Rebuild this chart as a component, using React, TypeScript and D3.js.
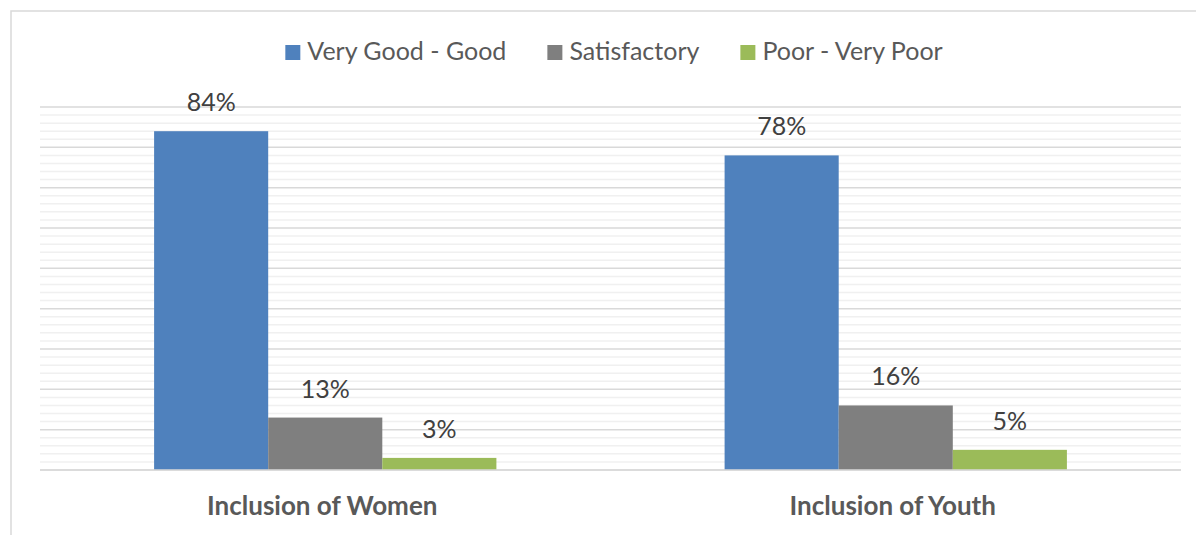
import React, { useEffect, useRef } from "react";
import * as d3 from "d3";

const categories = ["Inclusion of Women", "Inclusion of Youth"];
const seriesNames = ["Very Good - Good", "Satisfactory", "Poor - Very Poor"];
const seriesColors = ["#4f81bd", "#7f7f7f", "#9bbb59"];
const veryGoodGood = [0.84, 0.78];
const satisfactory = [0.13, 0.16];
const poorVeryPoor = [0.03, 0.05];
const yMax = 0.9;
const majorStep = 0.1;
const minorStep = 0.02;

const W = 1196;
const H = 535;
const FONT = "Lato, 'Open Sans', sans-serif";

export default function App() {
  const ref = useRef<SVGSVGElement>(null);

  useEffect(() => {
    const svg = d3.select(ref.current);
    svg.selectAll("*").remove();

    const plot = { left: 40, right: 1181, top: 107, bottom: 470 };
    const series = [veryGoodGood, satisfactory, poorVeryPoor];

    // chart area border
    svg.append("rect")
      .attr("x", 11).attr("y", 11)
      .attr("width", 1400).attr("height", 800)
      .attr("fill", "#fff")
      .attr("stroke", "#d9d9d9").attr("stroke-width", 1.5);

    const y = d3.scaleLinear().domain([0, yMax]).range([plot.bottom, plot.top]);
    const x0 = d3.scaleBand<string>().domain(categories).range([plot.left, plot.right]).paddingInner(0).paddingOuter(0);
    const bandW = x0.bandwidth();
    const barW = bandW / 5; // gap width 200%
    const x1 = d3.scaleBand<string>().domain(seriesNames).range([barW, barW * 4]);

    // gridlines
    const minorTicks = d3.range(0, Math.round(yMax / minorStep) + 1).map((i) => i * minorStep);
    const g = svg.append("g");
    minorTicks.forEach((t, i) => {
      const isMajor = i % Math.round(majorStep / minorStep) === 0;
      if (isMajor) return;
      g.append("line")
        .attr("x1", plot.left).attr("x2", plot.right)
        .attr("y1", y(t)).attr("y2", y(t))
        .attr("stroke", "#f0f0f0").attr("stroke-width", 1.5);
    });
    const majorTicks = d3.range(0, Math.round(yMax / majorStep) + 1).map((i) => i * majorStep);
    majorTicks.forEach((t) => {
      g.append("line")
        .attr("x1", plot.left).attr("x2", plot.right)
        .attr("y1", y(t)).attr("y2", y(t))
        .attr("stroke", "#d9d9d9").attr("stroke-width", 1.5);
    });

    // bars
    categories.forEach((c, ci) => {
      series.forEach((vals, si) => {
        const bx = (x0(c) as number) + (x1(seriesNames[si]) as number);
        const v = vals[ci];
        svg.append("rect")
          .attr("x", bx).attr("y", y(v))
          .attr("width", x1.bandwidth()).attr("height", y(0) - y(v))
          .attr("fill", seriesColors[si]);
        svg.append("text")
          .attr("x", bx + x1.bandwidth() / 2).attr("y", y(v) - 20)
          .attr("text-anchor", "middle")
          .attr("font-family", FONT).attr("font-size", 25)
          .attr("fill", "#404040")
          .text(d3.format(".0%")(v));
      });
      svg.append("text")
        .attr("x", (x0(c) as number) + bandW / 2 - 3).attr("y", 515)
        .attr("text-anchor", "middle")
        .attr("font-family", FONT).attr("font-size", 26).attr("font-weight", "bold")
        .attr("fill", "#595959")
        .text(c);
    });

    // baseline
    svg.append("line")
      .attr("x1", plot.left).attr("x2", plot.right)
      .attr("y1", y(0)).attr("y2", y(0))
      .attr("stroke", "#d9d9d9").attr("stroke-width", 1.5);

    // legend
    const sq = 15, sqGap = 7, itemGap = 41;
    const lg = svg.append("g");
    const items = seriesNames.map((name, i) => {
      const it = lg.append("g");
      it.append("rect").attr("x", 0).attr("y", -sq).attr("width", sq).attr("height", sq).attr("fill", seriesColors[i]);
      const t = it.append("text").attr("x", sq + sqGap).attr("y", 0)
        .attr("font-family", FONT).attr("font-size", 25).attr("fill", "#595959").text(name);
      const w = (t.node() as SVGTextElement).getComputedTextLength();
      return { it, w: sq + sqGap + w };
    });
    const total = d3.sum(items, (d) => d.w) + itemGap * (items.length - 1);
    let cx = 614 - total / 2;
    items.forEach((d) => {
      d.it.attr("transform", `translate(${cx},60)`);
      cx += d.w + itemGap;
    });
  }, []);

  return (
    <svg ref={ref} width={W} height={H}
      style={{ position: "fixed", left: 0, top: 0, display: "block", background: "#fff" }} />
  );
}
